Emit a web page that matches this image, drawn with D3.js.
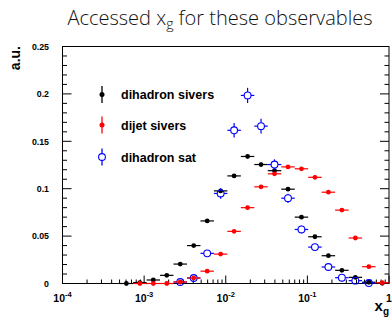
<!DOCTYPE html>
<html>
<head>
<meta charset="utf-8">
<title>Accessed xg</title>
<script src="https://d3js.org/d3.v7.min.js"></script>
<style>
  body { margin: 0; background: #fff; }
  text { font-family: "Liberation Sans", Arial, sans-serif; }
</style>
</head>
<body>
<div id="chart"></div>
<script>
// bin edges in x_g (20 log bins)
var binEdges = [5.01e-4, 7.33e-4, 1.072e-3, 1.567e-3, 2.29e-3, 3.35e-3, 4.90e-3, 7.16e-3,
                1.047e-2, 1.531e-2, 2.239e-2, 3.27e-2, 4.79e-2, 7.00e-2, 0.1023, 0.1496,
                0.2188, 0.320, 0.468, 0.684, 1.0]

// series values per bin (null = no point)
var dihadronSivers = [0.000, 0.001, 0.0037, 0.0086, 0.0205, 0.040, 0.066, 0.0977, 0.1135, 0.134,
                      0.1255, 0.119, 0.0995, 0.070, 0.0493, 0.0293, 0.0139, 0.0065, 0.0013, 0.0002]
var dihadronSiversErr = [0.0005, 0.0005, 0.0008, 0.001, 0.0012, 0.0015, 0.0018, 0.002, 0.002, 0.0022,
                         0.0022, 0.002, 0.002, 0.0018, 0.0015, 0.0012, 0.001, 0.0008, 0.0005, 0.0003]
var dijetSivers = [null, 0.000, 0.000, 0.000, 0.0016, 0.0058, 0.013, 0.031, 0.055, 0.080,
                   0.102, 0.1157, 0.123, 0.121, 0.112, 0.0963, 0.0774, 0.048, 0.0177, 0.0008]
var dijetSiversErr = [0, 0.0003, 0.0003, 0.0003, 0.0005, 0.0008, 0.001, 0.0013, 0.0015, 0.0018,
                      0.002, 0.002, 0.002, 0.002, 0.002, 0.0018, 0.0016, 0.0013, 0.0008, 0.0003]
var dihadronSat = [null, null, null, null, 0.0016, 0.0058, 0.0318, 0.095, 0.1616, 0.1984,
                   0.166, 0.1255, 0.090, 0.057, 0.0384, 0.0174, 0.0061, 0.003, 0.0005, null]
var dihadronSatErr = [0, 0, 0, 0, 0.001, 0.0015, 0.0035, 0.0056, 0.0077, 0.008,
                      0.0079, 0.0055, 0.0048, 0.004, 0.003, 0.002, 0.0012, 0.0008, 0.0005, 0]

var yTicks = [0, 0.05, 0.1, 0.15, 0.2, 0.25]
var yTickLabels = ["0", "0.05", "0.1", "0.15", "0.2", "0.25"]
var xDecades = [1e-4, 1e-3, 1e-2, 1e-1, 1]
var xDecadeLabels = [["10", "-4"], ["10", "-3"], ["10", "-2"], ["10", "-1"], ["1", ""]]

var legendItems = [
  {label: "dihadron sivers", color: "#000000", open: false},
  {label: "dijet sivers", color: "#ff0000", open: false},
  {label: "dihadron sat", color: "#0000ff", open: true}
]

var width = 392, height = 324
var plot = {left: 62.5, right: 389, top: 46.5, bottom: 283.5}

var svg = d3.select("#chart").append("svg")
    .attr("width", width)
    .attr("height", height)

var x = d3.scaleLog().domain([1e-4, 1]).range([plot.left, plot.right])
var y = d3.scaleLinear().domain([0, 0.25]).range([plot.bottom, plot.top])

// title
var title = svg.append("text")
    .attr("x", 220)
    .attr("y", 25)
    .attr("text-anchor", "middle")
    .style("font-family", "'Open Sans', 'Noto Sans', sans-serif")
    .style("font-weight", 300)
    .style("font-size", "20px")
    .style("fill", "#111")
title.append("tspan").text("Accessed x")
title.append("tspan").attr("dy", 4).style("font-size", "14px").text("g")
title.append("tspan").attr("dy", -4).text(" for these observables")

// frame
svg.append("rect")
    .attr("x", plot.left).attr("y", plot.top)
    .attr("width", plot.right - plot.left)
    .attr("height", plot.bottom - plot.top)
    .attr("fill", "none")
    .attr("stroke", "#000")
    .attr("stroke-width", 1)

// y ticks (left and right)
var yMinor = d3.range(0, 0.2501, 0.01)
var gT = svg.append("g").attr("stroke", "#000").attr("stroke-width", 1)
yMinor.forEach(function(v, i) {
  var len = (i % 5 === 0) ? 9 : 4.5
  gT.append("line").attr("x1", plot.left).attr("x2", plot.left + len)
    .attr("y1", y(v)).attr("y2", y(v))
  gT.append("line").attr("x1", plot.right).attr("x2", plot.right - len)
    .attr("y1", y(v)).attr("y2", y(v))
})
// x ticks (bottom)
xDecades.forEach(function(d, i) {
  gT.append("line").attr("x1", x(d)).attr("x2", x(d))
    .attr("y1", plot.bottom).attr("y2", plot.bottom - 8)
  if (i < xDecades.length - 1) {
    for (var m = 2; m <= 9; m++) {
      var v = d * m
      gT.append("line").attr("x1", x(v)).attr("x2", x(v))
        .attr("y1", plot.bottom).attr("y2", plot.bottom - 4)
    }
  }
})

// y tick labels
yTicks.forEach(function(v, i) {
  svg.append("text")
    .attr("x", 49)
    .attr("y", y(v) + 3.2)
    .attr("text-anchor", "end")
    .style("font-size", "8.8px")
    .style("font-weight", "bold")
    .text(yTickLabels[i])
})
// x tick labels
xDecades.forEach(function(d, i) {
  var t = svg.append("text")
    .attr("x", x(d))
    .attr("y", 302)
    .attr("text-anchor", "middle")
    .style("font-size", "10.5px")
    .style("font-weight", "bold")
  t.append("tspan").text(xDecadeLabels[i][0])
  if (xDecadeLabels[i][1]) {
    t.append("tspan").attr("dy", -5).style("font-size", "7.5px").text(xDecadeLabels[i][1])
  }
})

// axis titles
svg.append("text")
    .attr("transform", "translate(20,46) rotate(-90)")
    .attr("text-anchor", "end")
    .style("font-size", "14px")
    .style("font-weight", "bold")
    .text("a.u.")
var xt = svg.append("text")
    .attr("x", 389)
    .attr("y", 311)
    .attr("text-anchor", "end")
    .style("font-size", "15px")
    .style("font-weight", "bold")
xt.append("tspan").text("x")
xt.append("tspan").attr("dy", 4).style("font-size", "10px").text("g")

// data points
function drawSeries(vals, errs, color, open) {
  var g = svg.append("g")
  var r = open ? 3.4 : 2.4
  vals.forEach(function(v, i) {
    if (v === null) return
    var lo = binEdges[i], hi = binEdges[i + 1]
    var cx = x(Math.sqrt(lo * hi)), cy = y(v)
    var gap = open ? r : 0
    var xl = x(lo), xr = x(hi)
    var yt = y(v + errs[i]), yb = y(Math.max(0, v - errs[i]))
    var segs = [[xl, cy, cx - gap, cy], [cx + gap, cy, xr, cy]]
    if (cy - yt > gap) segs.push([cx, cy - gap, cx, yt])
    if (yb - cy > gap) segs.push([cx, cy + gap, cx, yb])
    segs.forEach(function(s) {
      g.append("line").attr("x1", s[0]).attr("y1", s[1]).attr("x2", s[2]).attr("y2", s[3])
        .attr("stroke", color).attr("stroke-width", 1.2)
    })
    g.append("circle").attr("cx", cx).attr("cy", cy).attr("r", r)
      .attr("fill", open ? "none" : color)
      .attr("stroke", color)
      .attr("stroke-width", open ? 1.1 : 0)
  })
}
drawSeries(dihadronSivers, dihadronSiversErr, "#000000", false)
drawSeries(dihadronSat, dihadronSatErr, "#0000ff", true)
drawSeries(dijetSivers, dijetSiversErr, "#ff0000", false)

// legend
var legendY = [94.5, 125, 157]
legendItems.forEach(function(item, i) {
  var ly = legendY[i], lx = 102
  var r = item.open ? 3.4 : 2.5
  var gap = item.open ? r : 0
  svg.append("line").attr("x1", lx).attr("x2", lx).attr("y1", ly - 8.5).attr("y2", ly - gap)
    .attr("stroke", item.color).attr("stroke-width", 1.3)
  svg.append("line").attr("x1", lx).attr("x2", lx).attr("y1", ly + gap).attr("y2", ly + 8.5)
    .attr("stroke", item.color).attr("stroke-width", 1.3)
  svg.append("circle").attr("cx", lx).attr("cy", ly).attr("r", r)
    .attr("fill", item.open ? "none" : item.color)
    .attr("stroke", item.color).attr("stroke-width", item.open ? 1.1 : 0)
  svg.append("text")
    .attr("x", 121)
    .attr("y", ly + 4.5)
    .style("font-size", "12.5px")
    .style("font-weight", "bold")
    .text(item.label)
})
</script>
</body>
</html>
